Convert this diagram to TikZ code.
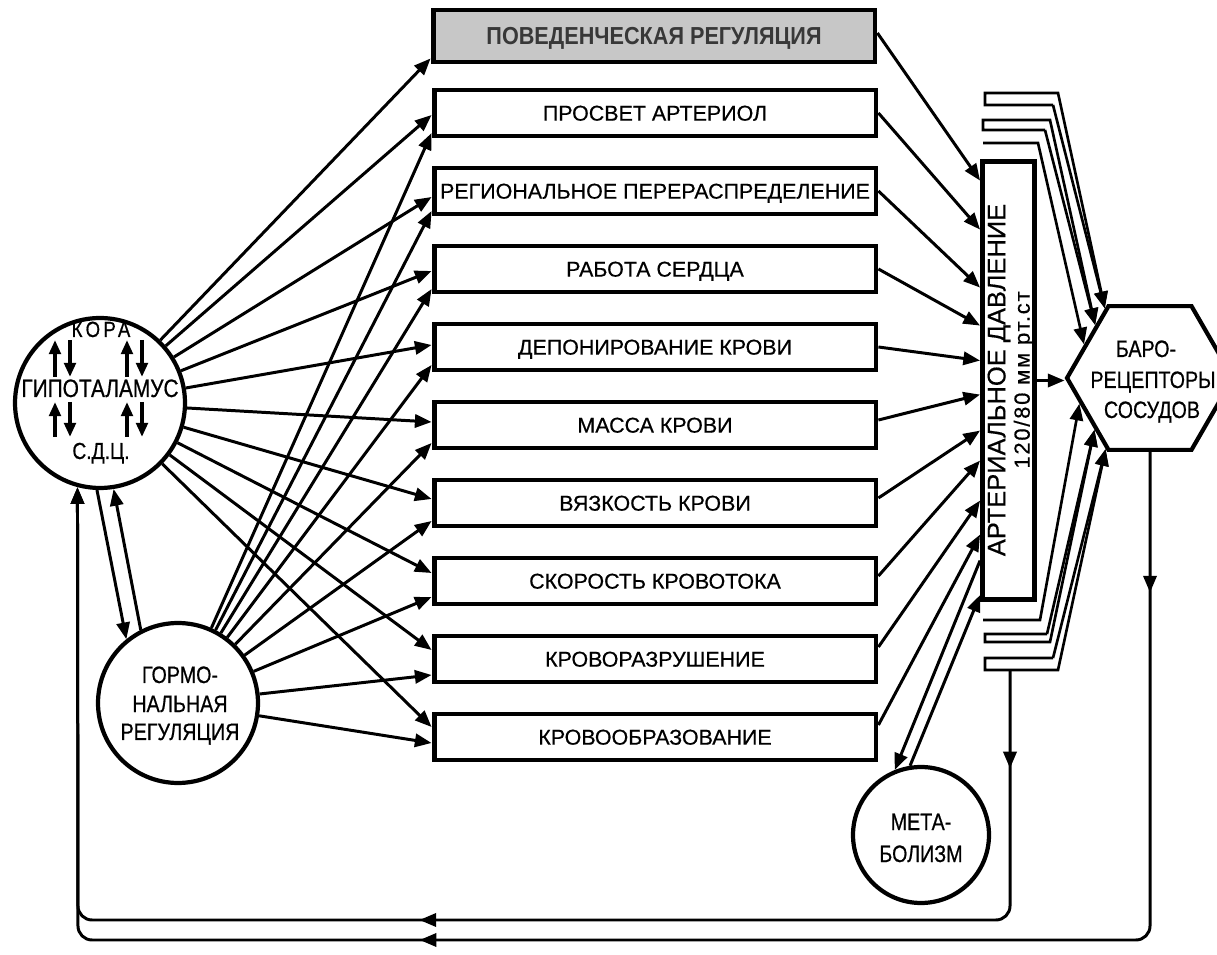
\documentclass[tikz,border=0pt]{standalone}
\usepackage{fontspec}
\setmainfont{Liberation Sans}
\newfontfamily\boxfont[FakeBold=0.6]{Liberation Sans}
\newfontfamily\circfont[FakeStretch=0.83,FakeBold=0.6]{Liberation Sans}
\newfontfamily\korafont[FakeStretch=0.85,LetterSpace=15,FakeBold=0.6]{Liberation Sans}
\newfontfamily\topfnt[FakeStretch=0.88]{Liberation Sans}
\newfontfamily\presfont[LetterSpace=8,FakeBold=0.5]{Liberation Sans}
\newfontfamily\presfonta[FakeBold=0.5]{Liberation Sans}
\usetikzlibrary{arrows.meta,shapes.geometric,calc,decorations.markings}
\definecolor{topfill}{gray}{0.78}
\definecolor{toptext}{gray}{0.22}
\begin{document}
\begin{tikzpicture}[x=0.02cm,y=-0.02cm,
  tip/.style={-{Triangle[length=9.5pt,width=7.5pt]}},
  conn/.style={line width=1.7pt,tip},
  brk/.style={line width=1.5pt,-{Triangle[length=9.5pt,width=7.5pt]}},
  box/.style={draw,line width=2.8pt,minimum width=8.84cm,minimum height=0.92cm,inner sep=0pt,text height=8.7pt,text depth=0pt,font=\boxfont\fontsize{12.2}{14}\selectfont},
  circ/.style={draw,circle,line width=2.4pt,inner sep=0pt},
  ctext/.style={anchor=base,inner sep=0pt,font=\circfont\fontsize{13.5}{16}\selectfont},
  small/.style={line width=2pt,-{Triangle[length=8pt,width=6.5pt]}},
  fb/.style={line width=1.7pt,rounded corners=8pt,tip}
]
\useasboundingbox (0,0) rectangle (1217,955);
\clip (0,0) rectangle (1217,955);

% top box
\node[draw,line width=2.8pt,fill=topfill,minimum width=8.84cm,minimum height=1.04cm,inner sep=0pt,
      text height=10pt,text depth=0pt,text=toptext,font=\topfnt\bfseries\fontsize{14}{16}\selectfont]
      (beh) at (654,36) {ПОВЕДЕНЧЕСКАЯ РЕГУЛЯЦИЯ};

% boxes
\foreach \i/\t in {1/ПРОСВЕТ АРТЕРИОЛ,2/РЕГИОНАЛЬНОЕ ПЕРЕРАСПРЕДЕЛЕНИЕ,3/РАБОТА СЕРДЦА,
  4/ДЕПОНИРОВАНИЕ КРОВИ,5/МАССА КРОВИ,6/ВЯЗКОСТЬ КРОВИ,7/СКОРОСТЬ КРОВОТОКА,
  8/КРОВОРАЗРУШЕНИЕ,9/КРОВООБРАЗОВАНИЕ}
  \node[box] (b\i) at (655,{113+78*(\i-1)}) {\t};

% pressure box
\node[draw,line width=2.8pt,minimum width=1.04cm,minimum height=8.76cm,inner sep=0pt] (press) at (1008.5,380.5) {};
\node[rotate=90,inner sep=0pt,font=\presfonta\fontsize{14.5}{16}\selectfont] (prt1) at (999,380) {АРТЕРИАЛЬНОЕ ДАВЛЕНИЕ};
\node[rotate=90,inner sep=0pt,font=\presfont\fontsize{12.5}{14}\selectfont] (prt2) at (1024,380) {120/80 мм рт.ст};

% baroreceptors
\node[draw,regular polygon,regular polygon sides=6,minimum size=3.32cm,inner sep=0pt,line width=2.4pt] (baro) at (1150,378) {};
\node[ctext] (bt1) at (1146,357) {БАРО-};
\node[ctext] (bt2) at (1153,388) {РЕЦЕПТОРЫ};
\node[ctext] (bt3) at (1152,418) {СОСУДОВ};

% circles
\node[circ,minimum size=3.4cm] (kora) at (100,403) {};
\node[anchor=base,inner sep=0pt,font=\korafont\fontsize{12.5}{15}\selectfont] (kt1) at (101,337) {КОРА};
\node[anchor=base,inner sep=0pt,font=\circfont\fontsize{14.3}{16}\selectfont] (kt2) at (100,397) {ГИПОТАЛАМУС};
\node[anchor=base,inner sep=0pt,font=\circfont\fontsize{13.2}{16}\selectfont] (kt3) at (101,459) {С.Д.Ц.};
\draw[small] (55,377) -- (55,340);
\draw[small] (70,340) -- (70,377);
\draw[small] (127,377) -- (127,340);
\draw[small] (142,340) -- (142,377);
\draw[small] (55,437) -- (55,402);
\draw[small] (70,402) -- (70,437);
\draw[small] (127,437) -- (127,402);
\draw[small] (142,402) -- (142,437);

\node[circ,minimum size=3.2cm] (horm) at (178,703) {};
\node[ctext] (ht1) at (180,683) {ГОРМО-};
\node[ctext] (ht2) at (180,712) {НАЛЬНАЯ};
\node[ctext] (ht3) at (180,740) {РЕГУЛЯЦИЯ};

\node[circ,minimum size=2.72cm] (meta) at (921,835) {};
\node[ctext] (mt1) at (921,830) {МЕТА-};
\node[ctext] (mt2) at (921,862) {БОЛИЗМ};

% kora <-> hormonal
\draw[conn] (kora.268) -- (horm.129);
\draw[conn] (horm.117) -- (kora.279);

% arrows to boxes
\draw[conn] (kora) -- ($(beh.south west)+(0,-6)$);
\draw[conn] ($(beh.east)+(0,-3)$) -- ($(press.north west)+(0,21.5)$);
\foreach \i/\k/\h/\s/\p in {1/2/20/0/70.5,2/6/20/0/128.5,3/2/20/0/166.5,4/-2/18/0/201.5,
  5/-3/18/-5/235.5,6/-4/18/-5/271.5,7/-8/16/-5/301.5,8/-9/16/-12/341.5,9/-10/6/-12/375.5}
{
  \draw[conn] (kora) -- ($(b\i.west)+(0,\k)$);
  \draw[conn] (horm) -- ($(b\i.west)+(0,\h)$);
  \draw[conn] ($(b\i.east)+(0,\s)$) -- ($(press.north west)+(0,\p)$);
}

% metabolism
\draw[conn] ($(press.north west)+(0,401.5)$) -- (meta.112);
\draw[conn] (meta.99) -- ($(press.north west)+(0,436)$);

% pressure -> baro
\draw[conn] (press.east) -- (press.east -| baro.west);

% top brackets
\draw[brk] (1053,105) -- (985,105) -- (985,93) -- (1058,93) -- (baro.123);
\draw[brk] (1053,105) -- (baro.123);
\draw[brk] (1045,130) -- (983,130) -- (983,120) -- (1050,120) -- (baro.136);
\draw[brk] (1045,130) -- (baro.136);
\draw[brk] (983,143) -- (1038,143) -- (baro.153);
% bottom brackets
\draw[brk] (983,620) -- (1040,620) -- (baro.200);
\draw[brk] (1047,634) -- (985,634) -- (985,642) -- (1050,642) -- (baro.223);
\draw[brk] (1047,634) -- (baro.223);
\draw[brk] (1053,658) -- (985,658) -- (985,670) -- (1058,670) -- (baro.238);
\draw[brk] (1053,658) -- (baro.238);

% feedback loops
\coordinate (bb) at (1010,670);
\coordinate (lowA) at (78,920);
\coordinate (lowB) at (78,940);
\draw[fb,decoration={markings,
   mark=at position 56pt with {\arrow{Triangle[length=9.5pt,width=7.5pt]}},
   mark=at position 475pt with {\arrow{Triangle[length=9.5pt,width=7.5pt]}}},postaction={decorate}]
   (bb) |- (lowA) -- (kora.255);
\draw[fb,decoration={markings,
   mark=at position 80pt with {\arrow{Triangle[length=9.5pt,width=7.5pt]}},
   mark=at position 690pt with {\arrow{Triangle[length=9.5pt,width=7.5pt]}}},postaction={decorate}]
   (baro.south) |- (lowB) -- (kora.255);
\end{tikzpicture}
\end{document}
